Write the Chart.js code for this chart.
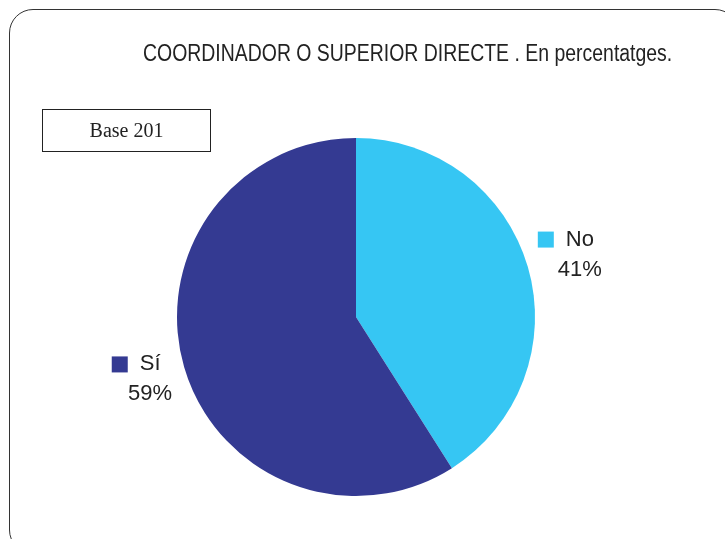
<!DOCTYPE html>
<html>
<head>
<meta charset="utf-8">
<script src="https://cdn.jsdelivr.net/npm/chart.js@4.4.1/dist/chart.umd.min.js"></script>
<style>
  html,body{margin:0;padding:0;background:#fff;overflow:hidden;}
  #wrap{position:relative;width:725px;height:539px;}
  #frame{position:absolute;left:9px;top:9px;width:730px;height:545px;
    border:1.6px solid #333;border-radius:24px;box-sizing:border-box;}
  #title{position:absolute;left:143px;top:39px;white-space:nowrap;
    font-family:"Liberation Sans",Arial,sans-serif;transform-origin:0 0;
    font-size:23px;line-height:28px;color:#222;}
  #base{position:absolute;left:42px;top:109px;width:169px;height:43px;box-sizing:border-box;
    border:1.8px solid #222;font-family:"Liberation Serif","Times New Roman",serif;
    font-size:20px;color:#222;display:flex;align-items:center;justify-content:center;}
  canvas{position:absolute;left:0;top:0;}
</style>
</head>
<body>
<div id="wrap">
  <canvas id="c" width="725" height="539"></canvas>
  <div id="frame"></div>
  <div id="title">COORDINADOR O SUPERIOR DIRECTE . En percentatges.</div>
  <div id="base">Base 201</div>
</div>
<script>
const CATEGORIES = ["No", "Sí"];
const VALUES = [41, 59];
const COLORS = ["#36c6f3", "#343a92"];

// title in the original is a narrow face; squeeze the regular one to the same width
const title = document.getElementById("title");
title.style.transform = "scaleX(" + (529 / title.offsetWidth) + ")";

// labels outside each slice: square + category, percentage beneath
const outsideLabels = {
  id: "outsideLabels",
  afterDatasetsDraw(chart){
    const ctx = chart.ctx;
    const meta = chart.getDatasetMeta(0);
    ctx.save();
    ctx.font = "22px 'Liberation Sans', Arial, sans-serif";
    ctx.fillStyle = "#222";
    ctx.textBaseline = "alphabetic";
    meta.data.forEach((arc, i) => {
      const mid = (arc.startAngle + arc.endAngle) / 2;
      const d = arc.outerRadius * 1.25;
      const px = arc.x + Math.cos(mid) * d;
      const py = arc.y + Math.sin(mid) * d;
      const tx = px + 9;
      const name = CATEGORIES[i];
      const pct = VALUES[i] + "%";
      const w1 = ctx.measureText(name).width;
      ctx.textAlign = "center";
      ctx.fillText(name, tx, py - 9);
      ctx.fillText(pct, tx, py + 21);
      ctx.fillStyle = COLORS[i];
      ctx.fillRect(tx - w1 / 2 - 28, py - 23, 16, 16);
      ctx.fillStyle = "#222";
    });
    ctx.restore();
  }
};

new Chart(document.getElementById("c"), {
  type: "pie",
  data: {
    labels: CATEGORIES,
    datasets: [{ data: VALUES, backgroundColor: COLORS, borderWidth: 0 }]
  },
  options: {
    responsive: false,
    animation: false,
    layout: { padding: { top: 138, bottom: 43, left: 177, right: 190 } },
    plugins: { legend: { display: false }, tooltip: { enabled: false }, title: { display: false } }
  },
  plugins: [outsideLabels]
});
</script>
</body>
</html>
